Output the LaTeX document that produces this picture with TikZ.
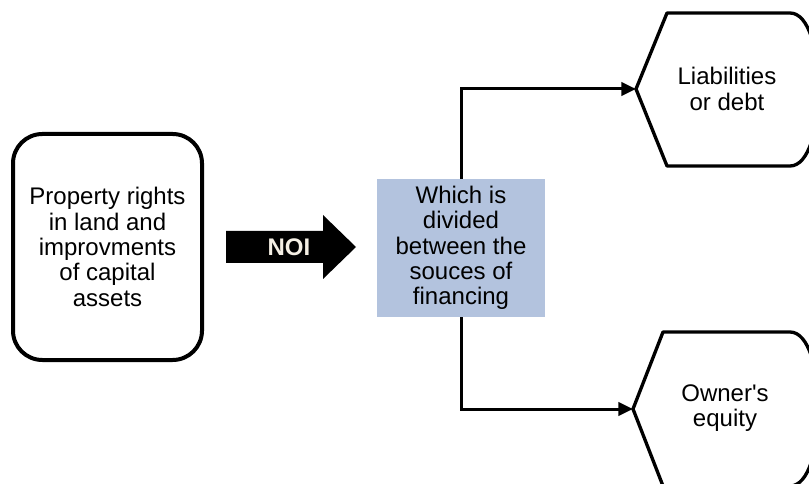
\documentclass[tikz,border=0pt]{standalone}
\usepackage{fontspec}
\setmainfont{Liberation Sans}
\usetikzlibrary{arrows.meta, positioning}
\definecolor{boxblue}{HTML}{B3C3DE}
\definecolor{noicream}{HTML}{F4EFE4}

\begin{document}
\begin{tikzpicture}[x=0.75pt, y=-0.75pt, >={Triangle[length=11pt, width=10pt]}]
\tikzset{
  txt/.style={align=center, font=\fontsize{18}{19}\selectfont},
  propbox/.style={txt, draw, line width=3pt, rounded corners=22pt,
    minimum width=141.75pt, minimum height=169.5pt},
  splitbox/.style={txt, fill=boxblue, inner sep=0pt,
    minimum width=126pt, minimum height=103.5pt},
  display/.style={draw, line width=2.5pt, line join=round},
  conn/.style={draw, line width=2.25pt}
}

% Frame
\useasboundingbox (0,0) rectangle (809,484);
\clip (0,0) rectangle (809,484);

% --- Left: property box ---
\node[propbox] (prop) at (107.5,247) {Property rights\\in land and\\improvments\\of capital\\assets};

% --- NOI block arrow ---
\fill (226,231) -- (323,231) -- (323,215) -- (356,247) -- (323,279) -- (323,263) -- (226,263) -- cycle;
\node[txt, text=noicream, font=\fontsize{18}{19}\selectfont\bfseries] (noi) at (289,247) {NOI};

% --- Middle: split box ---
\node[splitbox] (split) at (461,248) {Which is\\divided\\between the\\souces of\\financing};

% --- Right: display shapes ---
\draw[display] (636,89) -- (667,13) -- (790,13) .. controls (828,13) and (828,166) .. (790,166) -- (667,166) -- cycle;
\coordinate (liabtip) at (636,89);
\node[txt] (liab) at (727,89) {Liabilities\\or debt};

\draw[display] (633,409) -- (663,332) -- (790,332) .. controls (828,332) and (828,486) .. (790,486) -- (663,486) -- cycle;
\coordinate (ownertip) at (633,409);
\node[txt] (owner) at (725,408) {Owner\textquotesingle s\\equity};

% Connectors
\draw[conn, ->] (split.north) |- (liabtip);
\draw[conn, ->] (split.south) |- (ownertip);

\end{tikzpicture}
\end{document}
